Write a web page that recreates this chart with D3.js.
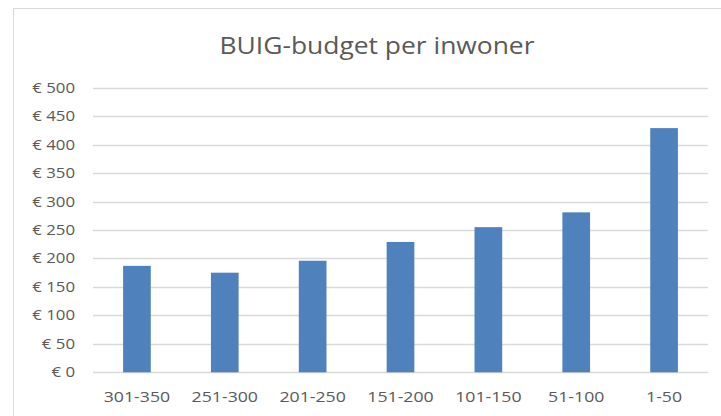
<!DOCTYPE html>
<html><head><meta charset="utf-8">
<script src="https://cdn.jsdelivr.net/npm/d3@7"></script>
<style>body{margin:0;background:#fff}svg{display:block}text{font-family:"Open Sans",sans-serif;fill:#595959}</style>
</head><body>
<svg id="c" width="721" height="416"></svg>
<script>
const categories = ["301-350","251-300","201-250","151-200","101-150","51-100","1-50"];
const values = [187, 175, 196, 229, 255, 281, 429];
const yTicks = [0,50,100,150,200,250,300,350,400,450,500];
const title = "BUIG-budget per inwoner";

const svg = d3.select("#c");
svg.append("rect").attr("x",13.5).attr("y",8.5).attr("width",740).attr("height",440)
  .attr("fill","#fff").attr("stroke","#d9d9d9").attr("stroke-width",1);

const m = {left:93, right:708, top:87.7, bottom:372.3};
const x = d3.scaleBand().domain(categories).range([m.left,m.right]).paddingInner(0.685).paddingOuter(0.3425);
const y = d3.scaleLinear().domain([0,500]).range([m.bottom,m.top]);

svg.append("g").selectAll("line").data(yTicks).join("line")
  .attr("x1",m.left).attr("x2",m.right)
  .attr("y1",d=>Math.round(y(d))+0.5).attr("y2",d=>Math.round(y(d))+0.5)
  .attr("stroke","#d9d9d9").attr("stroke-width",1.3);

svg.append("g").selectAll("rect").data(values).join("rect")
  .attr("x",(d,i)=>x(categories[i])).attr("width",x.bandwidth())
  .attr("y",d=>y(d)).attr("height",d=>y(0)-y(d))
  .attr("fill","#4f81bd");

function widen(sel,k){
  sel.each(function(){
    const w=this.getComputedTextLength();
    d3.select(this).attr("textLength",w*k).attr("lengthAdjust","spacingAndGlyphs");
  });
}

const yAxis = d3.axisLeft(y).tickValues(yTicks).tickSize(0).tickPadding(0).tickFormat(d=>"€ "+d);
const ga = svg.append("g").attr("transform","translate(75,0)").call(yAxis);
ga.select(".domain").remove();
ga.selectAll("text").attr("font-size",14).attr("fill","#595959").attr("font-family","Open Sans, sans-serif");
widen(ga.selectAll("text"),1.2);

const xAxis = d3.axisBottom(x).tickSize(0).tickPadding(0);
const gx = svg.append("g").attr("transform","translate(0,"+(m.bottom+19)+")").call(xAxis);
gx.select(".domain").remove();
gx.selectAll("text").attr("font-size",14.5).attr("fill","#595959").attr("font-family","Open Sans, sans-serif");
widen(gx.selectAll("text"),1.22);

svg.append("text").attr("x",377).attr("y",53.5).attr("text-anchor","middle")
  .attr("font-size",23.5).attr("textLength",315).attr("lengthAdjust","spacingAndGlyphs").text(title);
</script>
</body></html>
